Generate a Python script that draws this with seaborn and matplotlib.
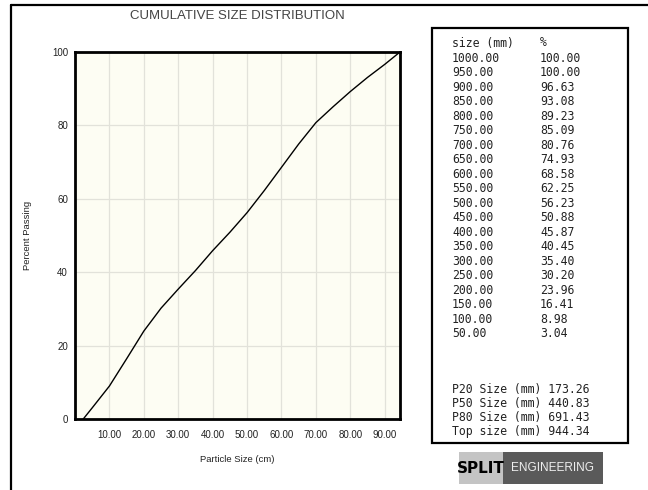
import numpy as np
import pandas as pd
import matplotlib
matplotlib.use('Agg')
import matplotlib.pyplot as plt
import seaborn as sns
from matplotlib.patches import Rectangle
from matplotlib.lines import Line2D

sns.set_style('whitegrid')
plt.rcParams['font.family'] = ['Liberation Sans', 'DejaVu Sans']

# size table (mm) and percent passing
size_mm = [1000.00, 950.00, 900.00, 850.00, 800.00, 750.00, 700.00, 650.00, 600.00,
           550.00, 500.00, 450.00, 400.00, 350.00, 300.00, 250.00, 200.00, 150.00,
           100.00, 50.00]
passing = [100.00, 100.00, 96.63, 93.08, 89.23, 85.09, 80.76, 74.93, 68.58,
           62.25, 56.23, 50.88, 45.87, 40.45, 35.40, 30.20, 23.96, 16.41,
           8.98, 3.04]
p_labels = ['P20 Size (mm)', 'P50 Size (mm)', 'P80 Size (mm)', 'Top size (mm)']
p_values = [173.26, 440.83, 691.43, 944.34]

# curve in cm: start of curve, table points below top size, top size at 100%
min_size_cm = 2.4
top_cm = p_values[3] / 10
curve_x = [min_size_cm] + [s / 10 for s in size_mm[::-1] if s / 10 < top_cm] + [top_cm]
curve_y = [0.0] + [p for s, p in zip(size_mm[::-1], passing[::-1]) if s / 10 < top_cm] + [100.0]
df = pd.DataFrame({'size_cm': curve_x, 'pct': curve_y})

W, H = 648, 490
fig = plt.figure(figsize=(W / 100, H / 100), dpi=100)
fig.patch.set_facecolor('white')

ax = fig.add_axes([75 / W, 1 - 419 / H, 325 / W, 367 / H])
ax.set_facecolor('#fdfdf3')
sns.lineplot(data=df, x='size_cm', y='pct', ax=ax, color='black', linewidth=1.0)

ax.set_xlim(0, top_cm)
ax.set_ylim(0, 100)
ax.set_xticks(np.arange(10, 91, 10))
ax.set_xticklabels([f'{v:.2f}' for v in np.arange(10, 91, 10)])
ax.set_yticks([0, 20, 40, 60, 80, 100])
ax.tick_params(axis='both', length=0, labelsize=7, colors='#222222')
ax.tick_params(axis='x', pad=8)
ax.tick_params(axis='y', pad=5)
ax.grid(True, color='#e2e2da', linewidth=0.9)
for sp in ax.spines.values():
    sp.set_color('black')
    sp.set_linewidth(2)
ax.set_xlabel('Particle Size (cm)', fontsize=6.8, color='#222222', va='center')
ax.xaxis.set_label_coords(0.5, (419 - 459) / 367)
ax.set_ylabel('Percent Passing', fontsize=6.8, color='#222222', va='center')
ax.yaxis.set_label_coords((28 - 75) / 325, 0.5)
fig.text(237.5 / W, 1 - 16 / H, 'CUMULATIVE SIZE DISTRIBUTION', fontsize=9.5,
         color='#444444', ha='center', va='center')

# outer frame (left and top)
fig.add_artist(Line2D([11 / W, 11 / W], [0, 1 - 5 / H], transform=fig.transFigure,
                      color='black', linewidth=1.6))
fig.add_artist(Line2D([11 / W, 1], [1 - 5 / H, 1 - 5 / H], transform=fig.transFigure,
                      color='black', linewidth=1.6))

# table box
fig.add_artist(Rectangle((432 / W, 1 - 443 / H), 196 / W, 415 / H, transform=fig.transFigure,
                         facecolor='white', edgecolor='black', linewidth=1.6))
mono = dict(family='DejaVu Sans Mono', fontsize=8.3, color='#222222', va='center')
fig.text(452 / W, 1 - 43 / H, 'size (mm)', **mono)
fig.text(540 / W, 1 - 43 / H, '%', **mono)
for i, (s, p) in enumerate(zip(size_mm, passing)):
    y = 58.3 + i * 14.5
    fig.text(452 / W, 1 - y / H, f'{s:.2f}', **mono)
    fig.text(540 / W, 1 - y / H, f'{p:.2f}', **mono)
for i, (lab, v) in enumerate(zip(p_labels, p_values)):
    y = 389 + i * 14.3
    fig.text(452 / W, 1 - y / H, f'{lab} {v:.2f}', **mono)

# logo
fig.add_artist(Rectangle((459 / W, 1 - 484 / H), 44 / W, 32 / H, transform=fig.transFigure,
                         facecolor='#c4c4c4', edgecolor='none'))
fig.add_artist(Rectangle((503 / W, 1 - 484 / H), 100 / W, 32 / H, transform=fig.transFigure,
                         facecolor='#5a5a5a', edgecolor='none'))
fig.text(481 / W, 1 - 468 / H, 'SPLIT', fontsize=11, fontweight='bold', color='black',
         ha='center', va='center', family='DejaVu Sans')
fig.text(553 / W, 1 - 468 / H, 'ENGINEERING', fontsize=8.5, color='#eeeeee',
         ha='center', va='center', family='Liberation Sans')

fig.savefig('out.png', dpi=100)
